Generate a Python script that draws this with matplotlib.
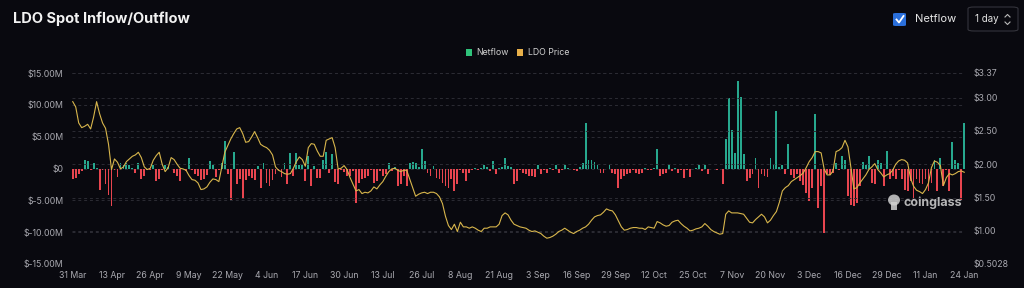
import matplotlib
matplotlib.use("Agg")
import matplotlib.pyplot as plt
import matplotlib.dates as mdates
from matplotlib.patches import FancyBboxPatch, Ellipse, Rectangle
from matplotlib.lines import Line2D
import pandas as pd
import numpy as np

# ---------------- data ----------------
start_date = "2024-03-31"
n_days = 300

netflow_m = [
    -1.7, -1.5, -0.9, -0.4, 1.3, 1.2, -0.3, 0.8, 0.1, -3.4,
    -0.2, -2.5, -4.2, -5.9, -0.3, -1.3, 0.9, 0.6, 0.9, 0.5,
    0.1, -0.7, 0.8, -1.6, -1.2, -0.3, -0.2, 0.5, -2.0, -1.7,
    -0.2, 0.5, 0.3, -0.1, -0.7, -1.2, -2.0, -0.1, -0.4, 1.6,
    -0.3, -0.9, -1.2, -1.8, -1.7, -1.0, 1.1, 0.5, -1.3, -0.2,
    0.9, 4.3, -0.9, -4.9, 2.6, -2.4, -1.7, -4.6, -1.8, -1.2,
    -1.5, -1.8, 0.4, -3.0, 0.8, -2.2, -2.8, -1.8, -0.9, -0.3,
    -1.3, 0.8, -2.5, 2.4, -1.2, 2.4, 0.6, 0.6, -2.0, 1.9,
    -2.8, 0.4, -1.5, -1.5, 1.4, 2.6, -0.7, 2.2, -2.1, -2.5,
    -0.3, -0.5, -1.2, -1.2, -0.4, -5.4, -2.2, -1.7, -1.5, -1.2,
    -0.3, -2.2, -2.0, -0.4, -1.2, -0.9, 0.8, -0.4, 0.3, -2.8,
    -2.5, -1.2, -2.8, 0.8, 1.0, 0.8, 0.2, 3.0, 1.2, -0.7,
    -1.2, 0.4, -1.5, -1.7, -2.3, -2.7, -3.0, -1.7, -3.6, -2.5,
    -0.2, -0.7, -2.0, -0.7, -0.2, 0.1, -0.3, 0.1, 0.5, 0.3,
    -0.4, 1.2, -0.9, 0.1, 0.2, 1.7, 0.4, 0.2, -2.5, -2.0,
    -0.3, -0.7, -0.9, -1.1, -1.2, -1.3, 0.5, -0.9, -0.2, -0.7,
    0.1, -0.3, 0.6, -0.7, -0.2, 0.5, 0.1, -0.1, -0.3, -0.4,
    0.3, 0.8, 7.2, 1.3, 1.3, 1.0, 0.6, -0.7, -0.7, -0.1,
    0.6, -0.7, -0.9, -3.0, -1.7, -1.1, -0.9, -0.7, -0.2, -0.7,
    -0.9, -0.7, 0.1, -0.2, -0.2, 0.1, 3.0, -1.2, -0.9, -0.7,
    0.5, -0.4, 0.1, -0.7, -0.3, -1.5, -0.2, -1.4, -0.1, 0.1,
    0.5, -0.4, 0.6, -0.9, -0.1, -0.1, -0.3, -0.1, -2.5, 4.6,
    11.1, 6.0, 2.5, 13.7, 11.2, 2.3, -2.0, -1.5, -0.9, 1.6,
    -3.0, -0.9, -1.2, -1.3, 1.6, 0.6, 9.0, 0.3, 0.5, -0.9,
    3.8, -1.0, -1.5, -0.8, -2.0, -2.6, -3.9, -5.1, -3.1, 8.5,
    -6.2, -2.8, -10.1, -0.8, -1.0, -0.7, 0.9, -0.3, 2.0, 1.4,
    -4.3, -5.7, -5.9, -5.4, -2.8, 1.0, 0.6, 2.0, -2.3, -2.5,
    1.4, 0.9, -2.8, 2.7, -1.7, -1.2, -1.7, -0.3, -1.7, -3.3,
    -3.6, -2.0, -4.9, -1.7, -2.3, -2.5, -1.7, -3.6, -2.3, 1.4,
    -3.6, 1.7, -2.8, -0.3, -3.6, 4.1, 1.3, 0.8, -4.9, 7.2,
]

ldo_price = [
    2.94, 2.86, 2.62, 2.55, 2.57, 2.60, 2.53, 2.71, 2.94, 2.76,
    2.62, 2.54, 2.30, 1.92, 2.08, 2.03, 1.93, 1.96, 2.04, 2.08,
    2.12, 2.14, 2.18, 2.10, 1.96, 1.92, 1.94, 2.06, 2.13, 2.18,
    2.00, 1.89, 1.95, 2.10, 2.07, 2.00, 1.94, 1.93, 1.91, 1.83,
    1.77, 1.76, 1.72, 1.62, 1.63, 1.66, 1.73, 1.78, 1.77, 1.74,
    1.96, 2.18, 2.28, 2.38, 2.46, 2.53, 2.55, 2.46, 2.33, 2.34,
    2.41, 2.49, 2.40, 2.30, 2.27, 2.25, 2.21, 2.14, 1.96, 1.91,
    1.89, 1.86, 1.85, 1.86, 1.94, 2.04, 2.11, 2.07, 1.97, 2.25,
    2.31, 2.30, 2.20, 2.12, 2.12, 2.36, 2.38, 2.40, 2.25, 1.93,
    1.94, 1.98, 1.92, 1.80, 1.70, 1.60, 1.62, 1.56, 1.58, 1.57,
    1.60, 1.66, 1.63, 1.69, 1.74, 1.82, 1.89, 1.93, 1.94, 1.91,
    1.89, 1.91, 1.91, 1.78, 1.65, 1.52, 1.55, 1.57, 1.58, 1.56,
    1.58, 1.58, 1.56, 1.51, 1.41, 1.22, 1.08, 1.02, 1.10, 0.99,
    1.13, 1.06, 1.06, 1.04, 1.06, 1.04, 1.01, 0.99, 1.04, 1.04,
    1.06, 1.06, 1.06, 1.10, 1.23, 1.27, 1.24, 1.16, 1.10, 1.08,
    1.06, 1.05, 1.04, 1.01, 0.99, 1.00, 0.98, 0.96, 0.92, 0.89,
    0.90, 0.92, 0.95, 0.99, 1.01, 1.04, 1.01, 0.98, 0.96, 0.99,
    1.01, 1.04, 1.06, 1.10, 1.16, 1.21, 1.23, 1.24, 1.28, 1.33,
    1.31, 1.30, 1.24, 1.15, 1.06, 1.01, 1.02, 1.04, 1.05, 1.05,
    1.04, 1.04, 1.02, 1.06, 1.05, 1.04, 1.14, 1.12, 1.09, 1.07,
    1.08, 1.13, 1.15, 1.16, 1.11, 1.07, 1.04, 1.00, 1.01, 1.03,
    1.04, 1.06, 1.11, 1.07, 1.02, 0.99, 0.97, 0.95, 0.96, 1.25,
    1.30, 1.27, 1.27, 1.27, 1.26, 1.25, 1.19, 1.13, 1.12, 1.17,
    1.21, 1.25, 1.21, 1.12, 1.16, 1.23, 1.29, 1.43, 1.60, 1.65,
    1.68, 1.74, 1.77, 1.80, 1.83, 1.87, 1.95, 2.04, 2.10, 2.19,
    2.19, 2.17, 1.93, 1.84, 1.84, 1.90, 2.19, 2.21, 2.25, 2.36,
    2.26, 1.94, 1.63, 1.65, 1.72, 1.78, 1.84, 1.92, 1.96, 2.01,
    1.92, 1.87, 1.81, 1.84, 1.86, 1.91, 2.00, 2.05, 2.07, 2.06,
    2.02, 1.79, 1.67, 1.61, 1.59, 1.56, 1.62, 1.72, 1.95, 2.05,
    2.03, 1.98, 1.68, 1.80, 1.86, 1.84, 1.86, 1.89, 1.90, 1.88,
]

x_tick_labels = ["31 Mar", "13 Apr", "26 Apr", "9 May", "22 May", "4 Jun",
                 "17 Jun", "30 Jun", "13 Jul", "26 Jul", "8 Aug", "21 Aug",
                 "3 Sep", "16 Sep", "29 Sep", "12 Oct", "25 Oct", "7 Nov",
                 "20 Nov", "3 Dec", "16 Dec", "29 Dec", "11 Jan", "24 Jan"]
left_ticks = [-15, -10, -5, 0, 5, 10, 15]
left_tick_labels = ["$-15.00M", "$-10.00M", "$-5.00M", "$0", "$5.00M", "$10.00M", "$15.00M"]
right_ticks = [0.5028, 1.0, 1.5, 2.0, 2.5, 3.0, 3.37]
right_tick_labels = ["$0.5028", "$1.00", "$1.50", "$2.00", "$2.50", "$3.00", "$3.37"]

# ---------------- style ----------------
BG = "#09090f"
GREEN = "#27a88e"
LEG_GREEN = "#2fc27a"
RED = "#e8454f"
PRICE = "#d8b64c"
GRID = "#2c2c34"
TXT = "#a9a9b0"
FONT = "Inter"

plt.rcParams['font.family'] = [FONT, 'DejaVu Sans']

W, H = 1024, 288
fig = plt.figure(figsize=(W / 100, H / 100), dpi=100, facecolor=BG)

def px(x0, y0, x1, y1):
    return [x0 / W, 1 - y1 / H, (x1 - x0) / W, (y1 - y0) / H]

dates = pd.date_range(start_date, periods=n_days, freq="D")
netflow = np.array(netflow_m)
price = np.array(ldo_price)

ax = fig.add_axes(px(72, 73, 965, 264))
ax.set_facecolor(BG)
colors = [GREEN if v >= 0 else RED for v in netflow]
ax.bar(dates, netflow, width=0.62, color=colors, zorder=2, linewidth=0)
ax.set_ylim(-15, 15)
ax.set_yticks(left_ticks)
ax.set_yticklabels(left_tick_labels)
ax.set_xlim(dates[0] - pd.Timedelta(hours=6), dates[-1] + pd.Timedelta(hours=6))
tick_dates = dates[::13]
ax.set_xticks(tick_dates)
ax.set_xticklabels(x_tick_labels)
ax.grid(axis="y", color=GRID, linestyle=(0, (3, 3)), linewidth=0.7, zorder=0)
ax.grid(axis="x", visible=False)
for s in ax.spines.values():
    s.set_visible(False)
ax.tick_params(axis="both", length=0, colors=TXT, labelsize=6.3)
ax.tick_params(axis="y", pad=6)
ax.tick_params(axis="x", pad=5)

ax2 = ax.twinx()
ax2.plot(dates, price, color=PRICE, linewidth=0.8, zorder=3)
ax2.set_ylim(right_ticks[0], right_ticks[-1])
ax2.set_yticks(right_ticks)
ax2.set_yticklabels(right_tick_labels)
ax2.grid(axis="y", color=GRID, linestyle=(0, (3, 3)), linewidth=0.7, zorder=0)
for s in ax2.spines.values():
    s.set_visible(False)
ax2.tick_params(axis="y", length=0, colors=TXT, labelsize=6.3, pad=6)

# ---------------- header ----------------
fig.text(13 / W, 1 - 19 / H, "LDO Spot Inflow/Outflow", color="#f2f2f2",
         fontsize=10.5, fontweight="bold", va="center", ha="left")

# checkbox
cb = FancyBboxPatch((893 / W, 1 - 26 / H), 13 / W, 13 / H,
                    boxstyle="round,pad=0,rounding_size=0.003",
                    transform=fig.transFigure, facecolor="#2a6fdb",
                    edgecolor="none")
fig.patches.append(cb)
fig.lines.append(Line2D([896.5 / W, 899 / W, 903.5 / W],
                        [1 - 19.5 / H, 1 - 22.5 / H, 1 - 16 / H],
                        transform=fig.transFigure, color="white", linewidth=1.3))
fig.text(915 / W, 1 - 19.5 / H, "Netflow", color="#e6e6e6", fontsize=8,
         va="center", ha="left")

# interval selector
sel = FancyBboxPatch((968 / W, 1 - 31 / H), 50 / W, 24 / H,
                     boxstyle="round,pad=0,rounding_size=0.006",
                     transform=fig.transFigure, facecolor="none",
                     edgecolor="#34343c", linewidth=0.8)
fig.patches.append(sel)
fig.text(975 / W, 1 - 19.5 / H, "1 day", color="#e6e6e6", fontsize=7,
         va="center", ha="left")
fig.lines.append(Line2D([1005 / W, 1007.5 / W, 1010 / W],
                        [1 - 17 / H, 1 - 14.5 / H, 1 - 17 / H],
                        transform=fig.transFigure, color="#bbbbbb", linewidth=0.8))
fig.lines.append(Line2D([1005 / W, 1007.5 / W, 1010 / W],
                        [1 - 22 / H, 1 - 24.5 / H, 1 - 22 / H],
                        transform=fig.transFigure, color="#bbbbbb", linewidth=0.8))

# legend
fig.patches.append(Rectangle((466 / W, 1 - 55.5 / H), 6 / W, 6 / H,
                             transform=fig.transFigure, facecolor=LEG_GREEN,
                             edgecolor="none"))
fig.text(476 / W, 1 - 52.5 / H, "Netflow", color="#d0d0d0", fontsize=6.3,
         va="center", ha="left")
fig.patches.append(Rectangle((517 / W, 1 - 55.5 / H), 6 / W, 6 / H,
                             transform=fig.transFigure, facecolor="#e8b04a",
                             edgecolor="none"))
fig.text(528 / W, 1 - 52.5 / H, "LDO Price", color="#d0d0d0", fontsize=6.3,
         va="center", ha="left")

# watermark
fig.patches.append(Ellipse((894 / W, 1 - 200 / H), 12 / W, 11 / H,
                           transform=fig.transFigure, facecolor="#cfcfcf",
                           edgecolor="none", alpha=0.85))
fig.patches.append(Rectangle((891 / W, 1 - 210 / H), 6 / W, 8 / H,
                             transform=fig.transFigure, facecolor="#cfcfcf",
                             edgecolor="none", alpha=0.85))
fig.text(904 / W, 1 - 203 / H, "coinglass", color="#d4d4d4", fontsize=9,
         fontweight="bold", va="center", ha="left", alpha=0.85)

fig.savefig("out.png", dpi=100, facecolor=BG)
